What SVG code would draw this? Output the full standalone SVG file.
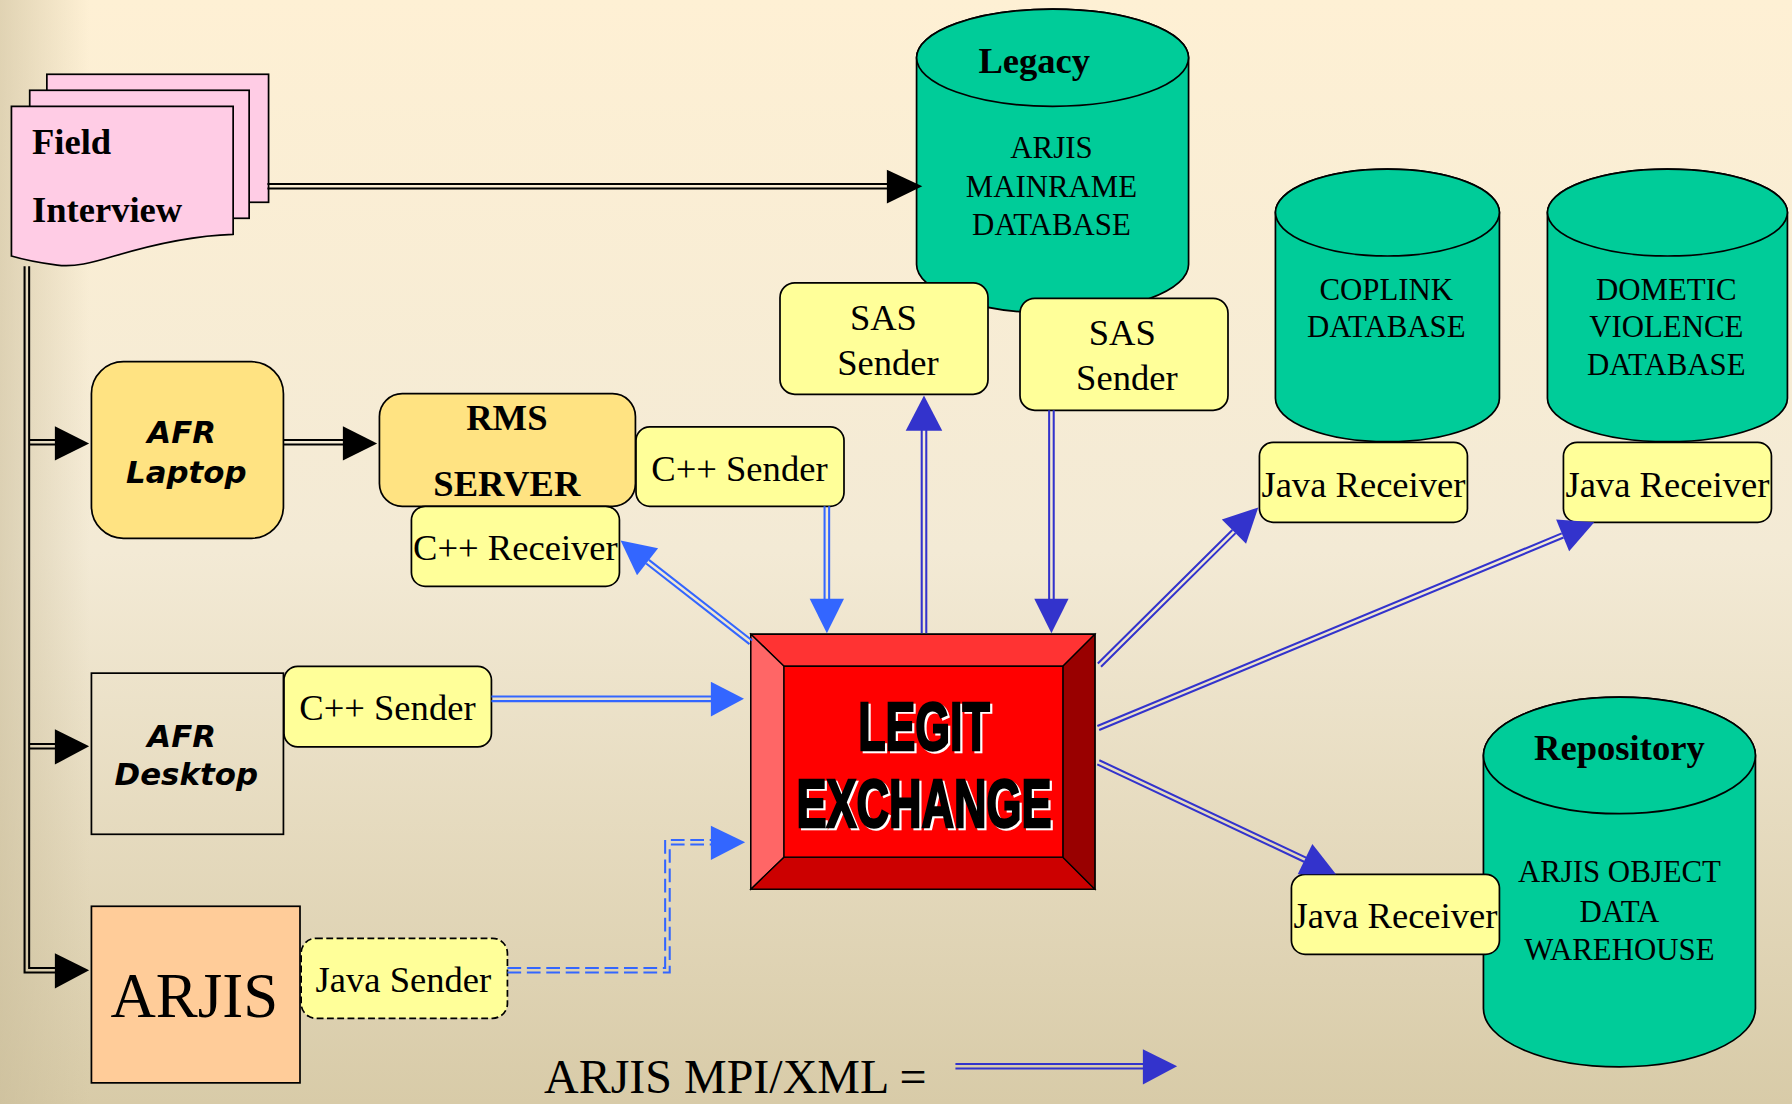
<svg xmlns="http://www.w3.org/2000/svg" width="1792" height="1104" viewBox="0 0 1792 1104">
<defs>
<linearGradient id="bgv" x1="0" y1="0" x2="0" y2="1">
<stop offset="0" stop-color="#FEF0D4"/>
<stop offset="0.5" stop-color="#F3EAD5"/>
<stop offset="1" stop-color="#D8CBA8"/>
</linearGradient>
<linearGradient id="bgh" x1="0" y1="0" x2="1" y2="0">
<stop offset="0" stop-color="#C8BB98" stop-opacity="0.55"/>
<stop offset="0.05" stop-color="#C8BB98" stop-opacity="0"/>
<stop offset="1" stop-color="#C8BB98" stop-opacity="0"/>
</linearGradient>
<style>
.box{fill:#FFFF99;stroke:#000;stroke-width:1.5}
.db{fill:#00CC99;stroke:#000;stroke-width:1.5}
.t{font-family:"Liberation Serif","Times New Roman",serif;fill:#000}
.b{font-weight:bold}
.m{text-anchor:middle}
.s32{font-size:32px}
.s27{font-size:27px}
.afr{font-family:"DejaVu Sans",Verdana,sans-serif;font-weight:bold;font-style:italic;font-size:27px;text-anchor:middle;fill:#000}
.lk{stroke:#000;stroke-width:1.8;fill:none}
.lb{stroke:#3366FF;stroke-width:1.8;fill:none}
.ld{stroke:#3333CC;stroke-width:1.8;fill:none}
.hk{fill:#000}
.hb{fill:#3366FF}
.hd{fill:#3333CC}
.lg{font-family:"Liberation Sans",Arial,sans-serif;font-weight:bold;font-size:60px;text-anchor:middle}
</style>
</defs>
<g transform="scale(1.142857)">
<rect x="0" y="0" width="1568" height="966" fill="url(#bgv)"/>
<rect x="0" y="0" width="1568" height="966" fill="url(#bgh)"/>

<g id="field-interview">
<rect x="41" y="65" width="194" height="112" fill="#FFCCE5" stroke="#000" stroke-width="1.5"/>
<rect x="26" y="79" width="192" height="112" fill="#FFCCE5" stroke="#000" stroke-width="1.5"/>
<path d="M10,93 H204 V205 C170,206 130,215 100,224 C80,230 65,234 50,232 C35,230 20,227 10,224 Z" fill="#FFCCE5" stroke="#000" stroke-width="1.5"/>
<text class="t b s32" x="28" y="135">Field</text>
<text class="t b s32" x="28" y="194">Interview</text>
</g>

<g id="legacy-db">
<path class="db" d="M802,50.5 A119,42.5 0 0 1 1040,50.5 V231.5 A119,42.5 0 0 1 802,231.5 Z"/>
<ellipse class="db" cx="921" cy="50.5" rx="119" ry="42.5"/>
<text class="t b s32 m" x="905" y="64">Legacy</text>
<text class="t s27 m" x="920" y="138">ARJIS</text>
<text class="t s27 m" x="920" y="172">MAINRAME</text>
<text class="t s27 m" x="920" y="206">DATABASE</text>
</g>

<g id="coplink-db">
<path class="db" d="M1116,186 A98,38 0 0 1 1312,186 V348.5 A98,38 0 0 1 1116,348.5 Z"/>
<ellipse class="db" cx="1214" cy="186" rx="98" ry="38"/>
<text class="t s27 m" x="1213" y="262.5">COPLINK</text>
<text class="t s27 m" x="1213" y="295">DATABASE</text>
</g>

<g id="dv-db">
<path class="db" d="M1354,186 A105,38 0 0 1 1564,186 V348.5 A105,38 0 0 1 1354,348.5 Z"/>
<ellipse class="db" cx="1459" cy="186" rx="105" ry="38"/>
<text class="t s27 m" x="1458" y="262.5">DOMETIC</text>
<text class="t s27 m" x="1458" y="295">VIOLENCE</text>
<text class="t s27 m" x="1458" y="328">DATABASE</text>
</g>

<g id="repository-db">
<path class="db" d="M1298,661 A119,51 0 0 1 1536,661 V882.5 A119,51 0 0 1 1298,882.5 Z"/>
<ellipse class="db" cx="1417" cy="661" rx="119" ry="51"/>
<text class="t b s32 m" x="1417" y="665">Repository</text>
<text class="t s27 m" x="1417" y="771.5">ARJIS OBJECT</text>
<text class="t s27 m" x="1417" y="806.5">DATA</text>
<text class="t s27 m" x="1417" y="840">WAREHOUSE</text>
</g>

<g id="sas-sender-1">
<rect class="box" x="682.5" y="247.5" width="182" height="97.5" rx="13"/>
<text class="t s32 m" x="773" y="289">SAS</text>
<text class="t s32 m" x="777" y="328">Sender</text>
</g>

<g id="sas-sender-2">
<rect class="box" x="892.5" y="261" width="182" height="98" rx="13"/>
<text class="t s32 m" x="982" y="302">SAS</text>
<text class="t s32 m" x="986" y="341">Sender</text>
</g>

<g id="java-receiver-coplink">
<rect class="box" x="1102" y="387" width="182" height="70" rx="12"/>
<text class="t s32 m" x="1193" y="435">Java Receiver</text>
</g>

<g id="java-receiver-dv">
<rect class="box" x="1368" y="387" width="182" height="70" rx="12"/>
<text class="t s32 m" x="1459" y="435">Java Receiver</text>
</g>

<g id="java-receiver-repo">
<rect class="box" x="1130" y="765" width="182" height="70" rx="12"/>
<text class="t s32 m" x="1221" y="812">Java Receiver</text>
</g>

<g id="afr-laptop">
<rect x="80" y="316.5" width="168" height="154.5" rx="28" fill="#FFE382" stroke="#000" stroke-width="1.5"/>
<text class="afr" x="159" y="388">AFR</text>
<text class="afr" x="163" y="423">Laptop</text>
</g>

<g id="rms-server">
<rect x="332" y="344.5" width="224" height="98.5" rx="20" fill="#FFE382" stroke="#000" stroke-width="1.5"/>
<text class="t b s32 m" x="443.5" y="376">RMS</text>
<text class="t b s32 m" x="443.5" y="434">SERVER</text>
</g>

<g id="cpp-sender-rms">
<rect class="box" x="556.5" y="373.5" width="182" height="69.5" rx="12"/>
<text class="t s32 m" x="647" y="421">C++ Sender</text>
</g>

<g id="cpp-receiver">
<rect class="box" x="360" y="443" width="182" height="70" rx="12"/>
<text class="t s32 m" x="451" y="490">C++ Receiver</text>
</g>

<g id="afr-desktop">
<rect x="80" y="589" width="168" height="141" fill="none" stroke="#000" stroke-width="1.5"/>
<text class="afr" x="159" y="654">AFR</text>
<text class="afr" x="163" y="687">Desktop</text>
</g>

<g id="cpp-sender-desktop">
<rect class="box" x="248.5" y="583" width="181.5" height="70.5" rx="12"/>
<text class="t s32 m" x="339" y="630">C++ Sender</text>
</g>

<g id="arjis">
<rect x="80" y="793" width="182.5" height="154.5" fill="#FFCC99" stroke="#000" stroke-width="1.5"/>
<text class="t m" x="170" y="890" font-size="55">ARJIS</text>
</g>

<g id="java-sender">
<rect x="263.5" y="821" width="180.5" height="70" rx="13" fill="#FFFF99" stroke="#000" stroke-width="1.5" stroke-dasharray="6 3"/>
<text class="t m" x="353" y="868" font-size="32">Java Sender</text>
</g>

<g id="legit-exchange">
<rect x="657" y="555" width="301" height="223" fill="#FF0000" stroke="#000" stroke-width="1.5"/>
<polygon points="657,555 958,555 930,583 686,583" fill="#FF3333" stroke="#000" stroke-width="1.2"/>
<polygon points="657,555 686,583 686,750 657,778" fill="#FF6666" stroke="#000" stroke-width="1.2"/>
<polygon points="657,778 686,750 930,750 958,778" fill="#CC0000" stroke="#000" stroke-width="1.2"/>
<polygon points="958,555 958,778 930,750 930,583" fill="#990000" stroke="#000" stroke-width="1.2"/>
<rect x="686" y="583" width="244" height="167" fill="#FF0000" stroke="#000" stroke-width="1.2"/>
<text class="lg" x="810.5" y="658" fill="#FFFFFF" stroke="#FFFFFF" stroke-width="2" textLength="115" lengthAdjust="spacingAndGlyphs">LEGIT</text>
<text class="lg" x="808.5" y="656" fill="#000" stroke="#000" stroke-width="2.2" textLength="115" lengthAdjust="spacingAndGlyphs">LEGIT</text>
<text class="lg" x="810.5" y="725.5" fill="#FFFFFF" stroke="#FFFFFF" stroke-width="2" textLength="223" lengthAdjust="spacingAndGlyphs">EXCHANGE</text>
<text class="lg" x="808.5" y="723.5" fill="#000" stroke="#000" stroke-width="2.2" textLength="223" lengthAdjust="spacingAndGlyphs">EXCHANGE</text>
</g>

<g id="legend">
<text class="t" x="476" y="956.5" font-size="42">ARJIS MPI/XML =</text>
<path class="ld" d="M836,931 H1002 M836,935 H1002"/>
<polygon class="hd" points="1000,918 1000,949 1030,933"/>
</g>

<g id="connectors">
<path class="lk" d="M234,161 H778 M234,165 H778"/>
<polygon class="hk" points="776,148.5 776,178 807,163"/>
<path class="lk" d="M21.5,233 V851 H50 M25.5,233 V847 H50"/>
<path class="lk" d="M25.5,385 H50 M25.5,389 H50"/>
<polygon class="hk" points="48,373 48,403 78,388"/>
<path class="lk" d="M25.5,651 H50 M25.5,655 H50"/>
<polygon class="hk" points="48,638 48,669 78,653"/>
<polygon class="hk" points="48,834 48,865 78,849"/>
<path class="lk" d="M248,385 H302 M248,389 H302"/>
<polygon class="hk" points="300,373 300,403 330,388"/>
<path class="lb" d="M721.5,443 V526 M725.5,443 V526"/>
<polygon class="hb" points="708.5,524 738.5,524 723.5,554"/>
<path class="ld" d="M806.5,554 V375 M810.5,554 V375"/>
<polygon class="hd" points="792.5,377 824.5,377 808.5,346"/>
<path class="ld" d="M918,359 V526 M922,359 V526"/>
<polygon class="hd" points="905,524 935,524 920,554"/>
<path class="lb" d="M658.2,560.4 L567.8,489.9 M655.8,563.6 L565.4,493.1"/>
<polygon class="hb" points="575.8,479.7 557.4,503.3 543,473"/>
<path class="ld" d="M963.4,583.4 L1081.1,466.5 M960.6,580.6 L1078.3,463.7"/>
<polygon class="hd" points="1090.3,475.7 1069.1,454.5 1101,444"/>
<path class="ld" d="M961.8,638.8 L1368.1,470.3 M960.2,635.2 L1366.5,466.7"/>
<polygon class="hd" points="1373,482.4 1361.6,454.6 1395,457"/>
<path class="ld" d="M960.1,668.8 L1141,754 M961.9,665.2 L1142.8,750.4"/>
<polygon class="hd" points="1148.3,738.6 1135.5,765 1169,765"/>
<path class="lb" d="M430,609.5 H624 M430,613.5 H624"/>
<polygon class="hb" points="622,596.5 622,627 651,611.5"/>
<path class="lb" stroke-dasharray="12 5" d="M444,847 H582 V735 H624 M444,851 H586 V739 H624"/>
<polygon class="hb" points="622,722.5 622,752.5 652,737"/>
</g>
</g>
</svg>
